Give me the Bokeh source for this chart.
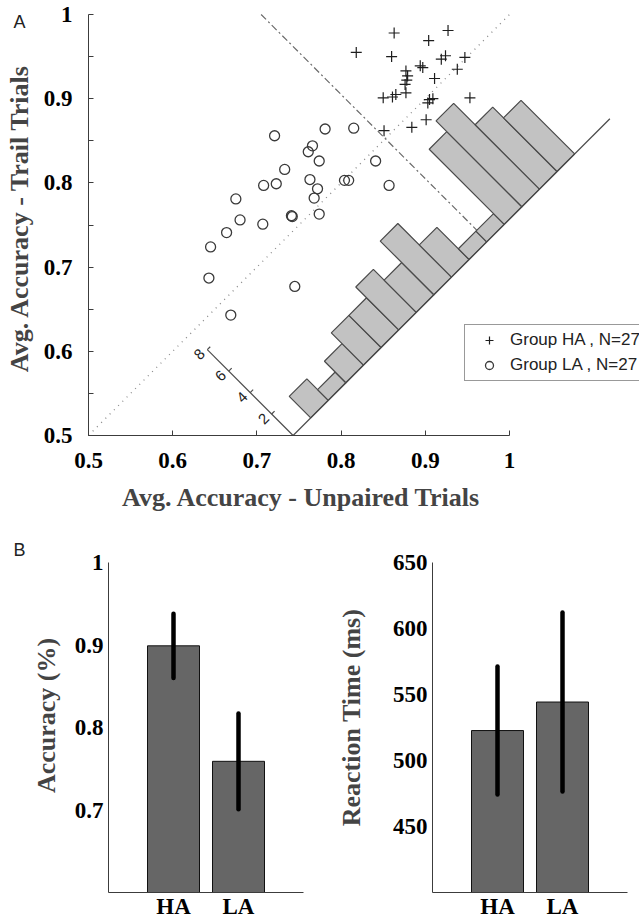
import numpy as np
from bokeh.plotting import figure
from bokeh.models import (Range1d, FixedTicker, CustomJSTickFormatter, Label,
                          Legend, LegendItem, LinearAxis)
from bokeh.layouts import column, row
from bokeh.embed import file_html
from bokeh.resources import INLINE
from bokeh.core.properties import value

# ---------------- Panel A data ----------------
ha_x = [0.863, 0.927, 0.904, 0.818, 0.860, 0.924, 0.919, 0.947, 0.938, 0.894,
        0.897, 0.877, 0.879, 0.911, 0.876, 0.877, 0.865, 0.850, 0.861, 0.905,
        0.903, 0.909, 0.953, 0.901, 0.884, 0.851, 0.878]
ha_y = [0.978, 0.981, 0.969, 0.955, 0.950, 0.951, 0.947, 0.949, 0.935, 0.939,
        0.937, 0.933, 0.927, 0.924, 0.917, 0.907, 0.905, 0.901, 0.902, 0.899,
        0.895, 0.900, 0.901, 0.875, 0.866, 0.862, 0.922]
la_x = [0.721, 0.781, 0.815, 0.766, 0.761, 0.774, 0.733, 0.708, 0.723, 0.763,
        0.772, 0.768, 0.804, 0.809, 0.841, 0.857, 0.741, 0.742, 0.774, 0.707,
        0.675, 0.680, 0.664, 0.645, 0.643, 0.745, 0.669]
la_y = [0.856, 0.864, 0.865, 0.844, 0.837, 0.826, 0.816, 0.797, 0.799, 0.804,
        0.793, 0.782, 0.803, 0.803, 0.826, 0.797, 0.761, 0.760, 0.763, 0.751,
        0.781, 0.756, 0.741, 0.724, 0.687, 0.677, 0.643]

hist_counts = [0, 2, 1, 2, 3, 3, 4, 3, 5, 3, 1, 1, 7, 8, 6, 5, 0, 0]
hist_origin = [0.743, 0.5]      # where the rotated histogram's baseline starts
hist_bin = 0.0209               # bin width along the baseline (data x units)
hist_unit = 0.01274             # one count, perpendicular to the baseline
count_ticks = [2, 4, 6, 8]

split_sum = 1.705               # dash-dot separator: x + y = const
split_x = [0.705, 0.961]

a_lim = [0.5, 1.0]
a_ticks = [0.5, 0.6, 0.7, 0.8, 0.9, 1.0]
a_minor = [0.55, 0.65, 0.75, 0.85, 0.95]

# ---------------- Panel B data ----------------
groups = ["HA", "LA"]
acc_mean = [0.899, 0.759]
acc_err = [0.039, 0.058]
rt_mean = [522.7, 544.3]
rt_err = [48.5, 67.8]
acc_lim = [0.6, 1.0]
rt_lim = [400, 650]
acc_ticks = [0.7, 0.8, 0.9, 1.0]
rt_ticks = [450, 500, 550, 600, 650]
bar_xlim = [0, 3]

SERIF = "Liberation Serif"
SANS = "Liberation Sans"
AX = "#3c3c3c"


def one_fmt():
    return CustomJSTickFormatter(code="return tick > 0.999 ? '1' : tick.toFixed(1);")


def make_axis(ticks, minor, standoff, tick_in, fmt, loc, bounds):
    ax = LinearAxis(fixed_location=loc, bounds=tuple(bounds),
                    ticker=FixedTicker(ticks=ticks, minor_ticks=minor or []))
    if fmt is not None:
        ax.formatter = fmt
    ax.major_label_text_font = SERIF
    ax.major_label_text_font_style = "bold"
    ax.major_label_text_font_size = "23px"
    ax.major_label_text_color = "black"
    ax.major_label_standoff = standoff
    ax.axis_line_color = AX
    ax.axis_line_width = 1
    ax.major_tick_in = tick_in
    ax.major_tick_out = 0
    ax.minor_tick_in = tick_in
    ax.minor_tick_out = 0
    ax.major_tick_line_color = AX if tick_in else None
    ax.minor_tick_line_color = AX if (tick_in and minor) else None
    return ax


def bare_figure(w, h, xr, yr):
    p = figure(width=w, height=h, output_backend="svg", toolbar_location=None,
               x_range=Range1d(*xr), y_range=Range1d(*yr),
               x_axis_type=None, y_axis_type=None, min_border=0)
    p.outline_line_color = None
    p.background_fill_color = "white"
    return p


# ================= Panel A =================
# frame covers the whole canvas; axes are pinned at x=0.5 / y=0.5
SA = 842.0              # px per data unit
WA, HA_ = 639, 541
X0, Y0 = 88, 435        # canvas position of (0.5, 0.5)
xr = (0.5 - X0 / SA, 0.5 + (WA - X0) / SA)
yr = (0.5 - (HA_ - Y0) / SA, 0.5 + Y0 / SA)
pa = bare_figure(WA, HA_, xr, yr)

pa.add_layout(make_axis(a_ticks, None, 17, 5, one_fmt(), a_lim[0], a_lim), "below")
pa.add_layout(make_axis(a_ticks, a_minor, 16, 5, one_fmt(), a_lim[0], a_lim), "left")

# identity diagonal (dotted)
pa.line(a_lim, a_lim, line_color="#8a8a8a", line_width=1.3, line_dash="1 5")
# dash-dot separator
pa.line(split_x, [split_sum - v for v in split_x], line_color="#6a6a6a",
        line_width=1.2, line_dash="7 3 2 3")

# rotated histogram
ox, oy = hist_origin
xs, ys = [], []
for i, c in enumerate(hist_counts):
    if c <= 0:
        continue
    t0, t1 = i * hist_bin, (i + 1) * hist_bin
    h = c * hist_unit
    xs.append([ox + t0, ox + t1, ox + t1 - h, ox + t0 - h])
    ys.append([oy + t0, oy + t1, oy + t1 + h, oy + t0 + h])
pa.patches(xs, ys, fill_color="#c2c2c2", line_color="#4a4a4a", line_width=1.2)
tlen = len(hist_counts) * hist_bin
pa.line([ox, ox + tlen], [oy, oy + tlen], line_color="#4a4a4a", line_width=1.2)
# count axis of the histogram
cmax = count_ticks[-1] * hist_unit
pa.line([ox, ox - cmax], [oy, oy + cmax], line_color="#4a4a4a", line_width=1.2)
tk = 0.0035
pa.segment(x0=[ox - c * hist_unit for c in count_ticks],
           y0=[oy + c * hist_unit for c in count_ticks],
           x1=[ox - c * hist_unit + tk for c in count_ticks],
           y1=[oy + c * hist_unit + tk for c in count_ticks],
           line_color="#4a4a4a", line_width=1.2)
pa.text(x=[ox - c * hist_unit - 0.0095 for c in count_ticks],
        y=[oy + c * hist_unit - 0.0055 for c in count_ticks],
        text=[str(c) for c in count_ticks], angle=np.pi / 4,
        text_font=value(SANS), text_font_size=value("15px"), text_color="#222",
        text_align="center", text_baseline="middle")

r_ha = pa.scatter(ha_x, ha_y, marker="cross", size=11, line_color="#1e1e1e",
                  line_width=1.2)
r_la = pa.scatter(la_x, la_y, marker="circle", size=10, fill_color=None,
                  line_color="#3a3a3a", line_width=1.3)

legend = Legend(items=[LegendItem(label="Group HA , N=27", renderers=[r_ha]),
                       LegendItem(label="Group LA , N=27", renderers=[r_la])],
                location=(464, HA_ - 381), padding=5, spacing=5, margin=0,
                glyph_width=38, glyph_height=20, label_height=20,
                label_standoff=2, label_text_font=SANS,
                label_text_font_size="17px", label_text_color="#222",
                border_line_color="#333", border_line_width=1,
                background_fill_color="white", background_fill_alpha=1.0)
pa.add_layout(legend)


def ax_x(px):
    return 0.5 + (px - X0) / SA


def ax_y(py):
    return 0.5 + (Y0 - py) / SA


pa.add_layout(Label(x=ax_x(19), y=ax_y(21), text="A", text_font=SANS,
                    text_font_size="18px", text_align="center",
                    text_baseline="middle", text_color="#222"))
pa.add_layout(Label(x=ax_x(19), y=ax_y(217.5), text="Avg. Accuracy - Trail Trials",
                    text_font=SERIF, text_font_style="bold", text_font_size="26px",
                    angle=np.pi / 2, text_align="center", text_baseline="middle"))
pa.add_layout(Label(x=ax_x(301), y=ax_y(497), text="Avg. Accuracy - Unpaired Trials",
                    text_font=SERIF, text_font_style="bold", text_font_size="26px",
                    text_align="center", text_baseline="alphabetic"))


# ================= Panel B =================
HB = 923 - HA_          # 382
BTOP, BBOT = 562 - HA_, 892 - HA_   # frame top/bottom inside the lower canvases
XS = 65.0               # px per bar slot


def bar_panel(means, errs, lim, ticks, fmt, width, left, title, title_px):
    lo, hi = lim
    sy = (BBOT - BTOP) / (hi - lo)
    xr = (-left / XS, (width - left) / XS)
    yr = (lo - (HB - BBOT) / sy, hi + BTOP / sy)
    p = bare_figure(width, HB, xr, yr)
    p.add_layout(make_axis(ticks, None, 5, 0, fmt, bar_xlim[0], lim), "left")
    xa = make_axis([i + 1 for i in range(len(groups))], None, 1, 0,
                   CustomJSTickFormatter(args=dict(names=groups),
                                         code="return names[Math.round(tick) - 1] || '';"),
                   lo, bar_xlim)
    p.add_layout(xa, "below")
    xpos = [i + 1 for i in range(len(groups))]
    p.vbar(x=xpos, width=0.8, top=means, bottom=lo, fill_color="#666666",
           line_color="#111111", line_width=1)
    p.segment(x0=xpos, y0=[m - e for m, e in zip(means, errs)],
              x1=xpos, y1=[m + e for m, e in zip(means, errs)],
              line_color="black", line_width=4.5, line_cap="round")
    tx = (title_px[0] - left) / XS
    ty = lo + (BBOT - (title_px[1] - HA_)) / sy
    p.add_layout(Label(x=tx, y=ty, text=title, text_font=SERIF,
                       text_font_style="bold", text_font_size="26px",
                       angle=np.pi / 2, text_align="center", text_baseline="middle"))
    return p, sy


pb1, sy1 = bar_panel(acc_mean, acc_err, acc_lim, acc_ticks, one_fmt(), 328, 108,
                     "Accuracy (%)", (46, 715))
pb1.add_layout(Label(x=(19 - 108) / XS, y=acc_lim[0] + (BBOT - (549 - HA_)) / sy1,
                     text="B", text_font=SANS, text_font_size="18px",
                     text_align="center", text_baseline="middle", text_color="#222"))
pb2, _ = bar_panel(rt_mean, rt_err, rt_lim, rt_ticks, None, 311, 104,
                   "Reaction Time (ms)", (351 - 328, 717))

layout = column(pa, row(pb1, pb2, spacing=0), spacing=0)

with open("out.html", "w") as f:
    f.write(file_html(layout, INLINE))
